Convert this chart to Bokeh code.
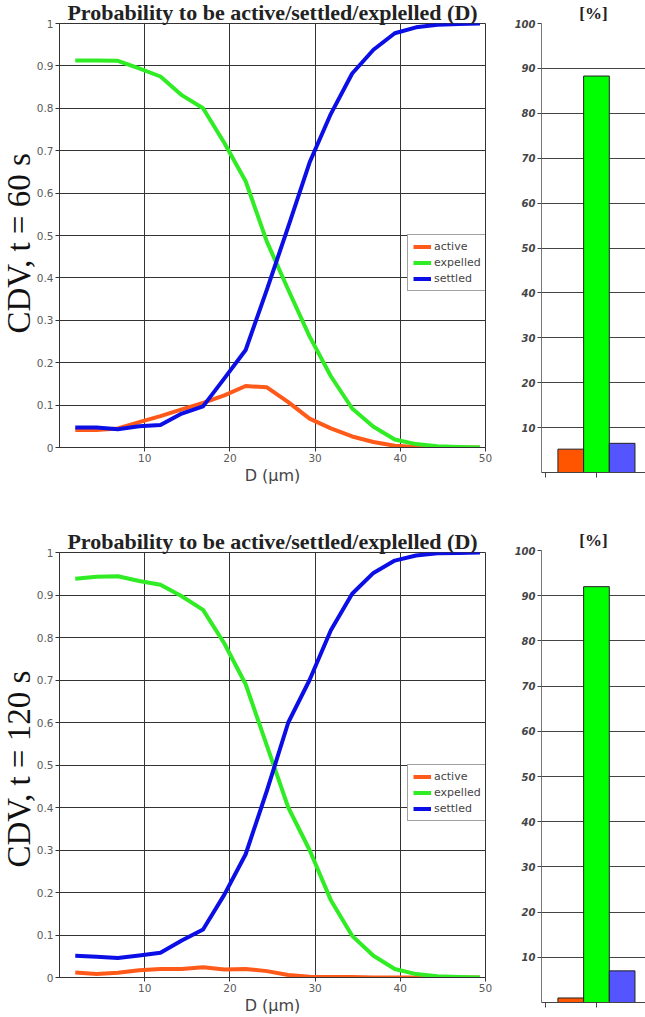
from bokeh.plotting import figure
from bokeh.layouts import column, row
from bokeh.models import FixedTicker, Range1d, Title
from bokeh.embed import file_html
from bokeh.resources import INLINE

# ---------------- data ----------------
D = [1.85, 4.35, 6.85, 9.35, 11.85, 14.35, 16.85, 19.35, 21.85, 24.35,
     26.85, 29.35, 31.85, 34.35, 36.85, 39.35, 41.85, 44.35, 46.85, 49.35]

active_60 = [0.041, 0.041, 0.045, 0.060, 0.074, 0.090, 0.105, 0.123, 0.145, 0.142,
             0.107, 0.068, 0.045, 0.026, 0.013, 0.004, 0.001, 0.000, 0.000, 0.000]
expelled_60 = [0.913, 0.913, 0.912, 0.894, 0.875, 0.831, 0.800, 0.718, 0.628, 0.485,
               0.372, 0.262, 0.168, 0.092, 0.049, 0.019, 0.008, 0.003, 0.001, 0.000]
settled_60 = [0.047, 0.047, 0.043, 0.050, 0.053, 0.080, 0.097, 0.163, 0.230, 0.373,
              0.521, 0.672, 0.787, 0.882, 0.938, 0.977, 0.991, 0.997, 0.999, 1.000]

active_120 = [0.012, 0.008, 0.011, 0.017, 0.020, 0.020, 0.024, 0.019, 0.020, 0.015,
              0.006, 0.002, 0.001, 0.001, 0.000, 0.000, 0.000, 0.000, 0.000, 0.000]
expelled_120 = [0.938, 0.943, 0.944, 0.933, 0.924, 0.897, 0.865, 0.786, 0.690, 0.545,
                0.400, 0.300, 0.182, 0.098, 0.051, 0.020, 0.008, 0.003, 0.001, 0.000]
settled_120 = [0.051, 0.049, 0.046, 0.052, 0.058, 0.087, 0.113, 0.195, 0.290, 0.440,
               0.600, 0.700, 0.817, 0.903, 0.952, 0.981, 0.993, 0.998, 0.999, 1.000]

categories = ["active", "expelled", "settled"]
bar_60 = [5.2, 88.3, 6.5]
bar_120 = [1.0, 92.0, 7.0]

x_ticks = [10, 20, 30, 40, 50]
y_ticks = [0, 0.1, 0.2, 0.3, 0.4, 0.5, 0.6, 0.7, 0.8, 0.9, 1]
bar_ticks = [10, 20, 30, 40, 50, 60, 70, 80, 90, 100]

TITLE = "Probability to be active/settled/explelled (D)"

LINE_COLORS = {"active": "#ff5a1a", "expelled": "#30ec24", "settled": "#0b0fe6"}
BAR_COLORS = ["#ff5500", "#00ff00", "#5555ff"]

LINE_W = 501
BAR_W = 144


def make_line(active, expelled, settled, ylabel, ylabel_offset, height, top, bottom):
    p = figure(width=LINE_W, height=height,
               x_range=Range1d(0, 50), y_range=Range1d(0, 1),
               output_backend="svg", toolbar_location=None,
               min_border_left=59, min_border_right=16,
               min_border_top=top, min_border_bottom=bottom)
    p.title.text = TITLE
    p.title.align = "center"
    p.title.vertical_align = "middle"
    p.title.text_font = "Liberation Serif"
    p.title.text_font_style = "bold"
    p.title.text_font_size = "22px"
    p.title.text_color = "#222222"
    p.title.standoff = -4
    p.title.text_line_height = 0.9

    p.add_layout(Title(text=ylabel, align="left", offset=ylabel_offset, standoff=-7,
                       text_font="Liberation Serif", text_font_style="normal",
                       text_font_size="33px", text_color="#111111"), "left")

    p.xaxis.ticker = FixedTicker(ticks=x_ticks)
    p.yaxis.ticker = FixedTicker(ticks=y_ticks)
    p.xgrid.ticker = FixedTicker(ticks=x_ticks)
    p.ygrid.ticker = FixedTicker(ticks=y_ticks)
    p.yaxis.major_label_overrides = {0: "0", 1: "1"}
    for ax in (p.xaxis[0], p.yaxis[0]):
        ax.axis_line_color = "#333333"
        ax.major_tick_line_color = "#333333"
        ax.major_tick_out = 4
        ax.major_tick_in = 0
        ax.minor_tick_out = 0
        ax.minor_tick_in = 0
        ax.major_label_standoff = 2
        ax.major_label_text_font = "DejaVu Sans"
        ax.major_label_text_font_size = "10.5px"
        ax.major_label_text_color = "#5a5a5a"
    p.xaxis.axis_label = "D (µm)"
    p.xaxis.axis_label_text_font = "DejaVu Sans"
    p.xaxis.axis_label_text_font_size = "16px"
    p.xaxis.axis_label_text_font_style = "normal"
    p.xaxis.axis_label_text_color = "#444444"
    p.xaxis.axis_label_standoff = 1

    p.xgrid.grid_line_color = "#333333"
    p.ygrid.grid_line_color = "#333333"
    p.outline_line_color = "#333333"

    for name, vals in (("active", active), ("expelled", expelled), ("settled", settled)):
        p.line(D, vals, line_color=LINE_COLORS[name], line_width=4,
               line_join="round", legend_label=name)

    lg = p.legend[0]
    lg.location = (348, 156)
    lg.border_line_color = "#444444"
    lg.background_fill_color = "white"
    lg.background_fill_alpha = 1.0
    lg.label_text_font = "DejaVu Sans"
    lg.label_text_font_size = "11px"
    lg.label_text_color = "#444444"
    lg.glyph_width = 18
    lg.glyph_height = 13
    lg.label_height = 13
    lg.label_standoff = 3
    lg.spacing = 3
    lg.padding = 5
    lg.margin = 0
    return p


def make_bar(values, height, top, bottom):
    p = figure(width=BAR_W, height=height,
               x_range=Range1d(-0.14, 3.91), y_range=Range1d(0, 100),
               output_backend="svg", toolbar_location=None,
               min_border_left=40, min_border_right=0,
               min_border_top=top, min_border_bottom=bottom)
    p.title.text = "[%]"
    p.title.align = "center"
    p.title.text_font = "Liberation Serif"
    p.title.text_font_style = "bold"
    p.title.text_font_size = "17px"
    p.title.text_color = "#222222"
    p.title.standoff = 2

    pos = [i + 1 for i in range(len(categories))]
    p.vbar(x=pos, top=values, width=1.0, fill_color=BAR_COLORS,
           line_color="#222222", line_width=1)

    # tick marks only, no labels
    p.xaxis.ticker = FixedTicker(ticks=[], minor_ticks=[0, 2])
    p.xaxis.minor_tick_out = 5
    p.xaxis.minor_tick_in = 0
    p.xaxis.minor_tick_line_color = "#444444"
    p.xaxis.major_tick_out = 0
    p.xaxis.axis_line_color = "#444444"

    p.yaxis.ticker = FixedTicker(ticks=bar_ticks)
    p.yaxis.axis_line_color = "#777777"
    p.yaxis.major_tick_line_color = "#444444"
    p.yaxis.major_tick_out = 4
    p.yaxis.major_tick_in = 0
    p.yaxis.minor_tick_out = 0
    p.yaxis.minor_tick_in = 0
    p.yaxis.major_label_standoff = 2
    p.yaxis.major_label_text_font = "DejaVu Sans"
    p.yaxis.major_label_text_font_style = "bold italic"
    p.yaxis.major_label_text_font_size = "10px"
    p.yaxis.major_label_text_color = "#444444"

    p.xgrid.grid_line_color = None
    p.ygrid.ticker = FixedTicker(ticks=bar_ticks)
    p.ygrid.grid_line_color = "#444444"
    p.outline_line_color = None
    return p


l1 = make_line(active_60, expelled_60, settled_60, "CDV, t = 60 s", 114, 512, 23, 65)
l2 = make_line(active_120, expelled_120, settled_120, "CDV, t = 120 s", 110, 505, 40, 40)
b1 = make_bar(bar_60, 512, 22, 40)
b2 = make_bar(bar_120, 505, 38, 15)

layout = row(column(l1, l2), column(b1, b2))

with open("out.html", "w") as f:
    f.write(file_html(layout, INLINE))
